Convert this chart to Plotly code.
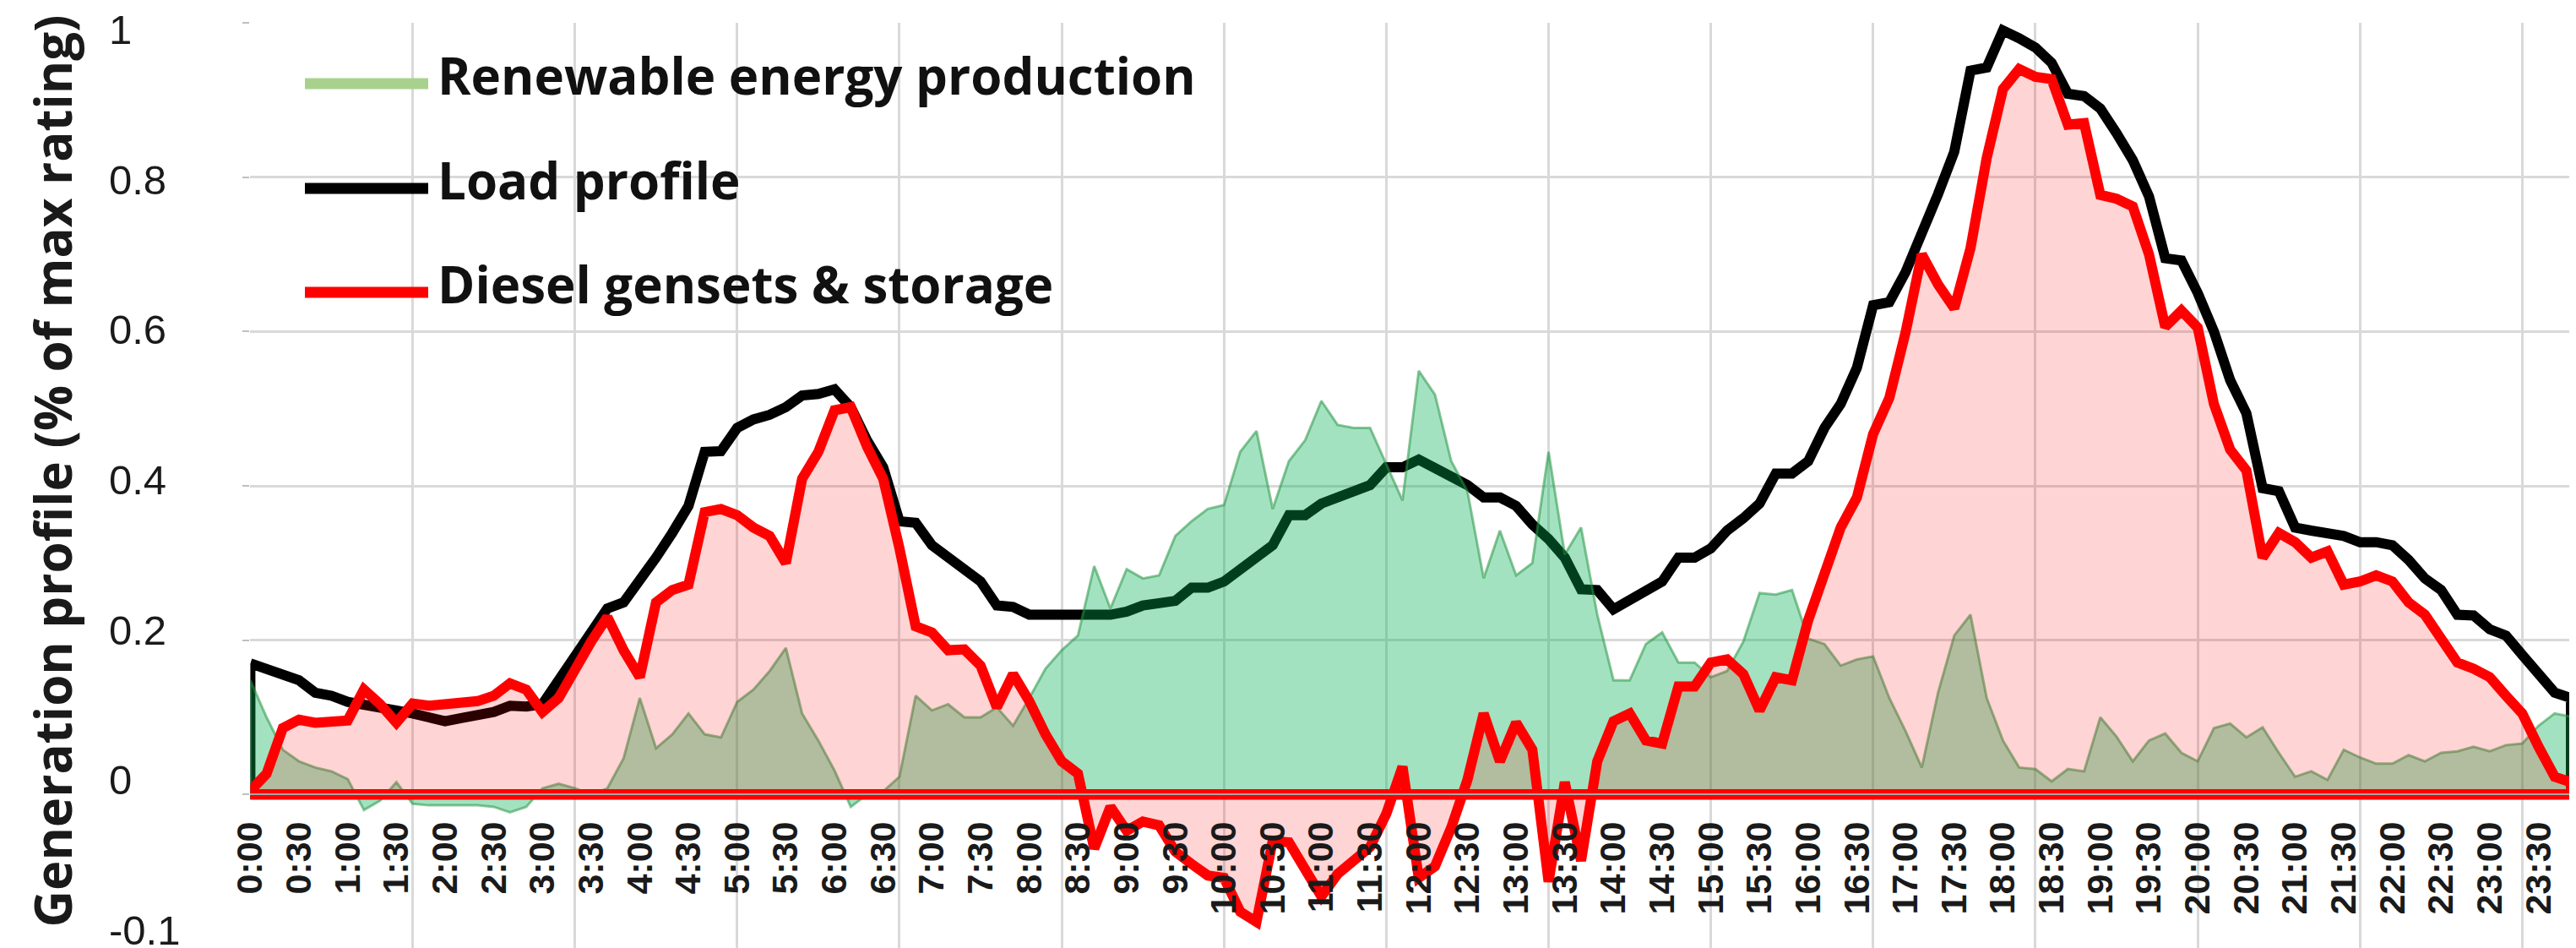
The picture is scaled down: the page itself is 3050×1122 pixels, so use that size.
import plotly.graph_objects as go

# ---------------- data (10-minute resolution, 0:00 .. 23:50) ----------------
times = [f"{h}:{m:02d}" for h in range(24) for m in range(0, 60, 10)]
minutes = [int(t.split(":")[0]) * 60 + int(t.split(":")[1]) for t in times]

tick_labels = times[::3]          # 0:00, 0:30, ... 23:30
tick_minutes = minutes[::3]
grid_minutes = minutes[::10]      # vertical gridlines every 100 minutes

y_grid_values = [1, 0.8, 0.6, 0.4, 0.2, 0, -0.2]
y_tick_labels = ["1", "0.8", "0.6", "0.4", "0.2", "0", "-0.1"]

load_profile = [
    0.170, 0.163, 0.156, 0.148, 0.132, 0.128, 0.120, 0.117, 0.113, 0.109,
    0.105, 0.100, 0.095, 0.099, 0.103, 0.107, 0.115, 0.114, 0.117, 0.148,
    0.179, 0.206, 0.241, 0.249, 0.276, 0.307, 0.339, 0.374, 0.444, 0.445,
    0.475, 0.486, 0.492, 0.502, 0.517, 0.519, 0.525, 0.502, 0.459, 0.424,
    0.354, 0.352, 0.323, 0.307, 0.292, 0.276, 0.245, 0.243, 0.233, 0.233,
    0.233, 0.233, 0.233, 0.233, 0.237, 0.245, 0.248, 0.251, 0.268, 0.268,
    0.276, 0.292, 0.307, 0.323, 0.362, 0.362, 0.377, 0.385, 0.393, 0.401,
    0.424, 0.424, 0.434, 0.424, 0.412, 0.401, 0.385, 0.385, 0.374, 0.350,
    0.331, 0.307, 0.266, 0.265, 0.240, 0.253, 0.265, 0.276, 0.307, 0.307,
    0.319, 0.342, 0.358, 0.377, 0.416, 0.416, 0.432, 0.475, 0.506, 0.553,
    0.634, 0.638, 0.677, 0.724, 0.778, 0.833, 0.938, 0.942, 0.990, 0.980,
    0.968, 0.948, 0.908, 0.905, 0.889, 0.857, 0.822, 0.775, 0.695, 0.692,
    0.650, 0.600, 0.537, 0.494, 0.397, 0.393, 0.346, 0.342, 0.338, 0.335,
    0.327, 0.327, 0.323, 0.304, 0.280, 0.265, 0.233, 0.232, 0.214, 0.206,
    0.181, 0.156, 0.132, 0.125,
]

renewable = [
    0.148, 0.100, 0.058, 0.043, 0.035, 0.030, 0.020, -0.020, -0.008, 0.016,
    -0.012, -0.014, -0.014, -0.014, -0.014, -0.016, -0.023, -0.016, 0.008, 0.014,
    0.008, 0.000, 0.008, 0.047, 0.125, 0.060, 0.078, 0.105, 0.078, 0.074,
    0.120, 0.136, 0.160, 0.190, 0.105, 0.070, 0.031, -0.016, 0.000, 0.004,
    0.023, 0.128, 0.109, 0.117, 0.100, 0.100, 0.113, 0.089, 0.125, 0.163,
    0.187, 0.206, 0.296, 0.241, 0.292, 0.280, 0.284, 0.335, 0.354, 0.370,
    0.375, 0.444, 0.471, 0.370, 0.432, 0.459, 0.510, 0.479, 0.475, 0.475,
    0.428, 0.381, 0.549, 0.518, 0.432, 0.393, 0.280, 0.342, 0.284, 0.300,
    0.444, 0.311, 0.346, 0.233, 0.148, 0.148, 0.195, 0.210, 0.171, 0.171,
    0.152, 0.160, 0.198, 0.261, 0.259, 0.265, 0.202, 0.195, 0.167, 0.175,
    0.179, 0.125, 0.082, 0.035, 0.132, 0.206, 0.233, 0.125, 0.070, 0.035,
    0.033, 0.017, 0.033, 0.030, 0.100, 0.075, 0.043, 0.070, 0.079, 0.054,
    0.043, 0.086, 0.092, 0.074, 0.087, 0.054, 0.023, 0.030, 0.019, 0.058,
    0.048, 0.040, 0.040, 0.051, 0.043, 0.054, 0.056, 0.062, 0.056, 0.064,
    0.066, 0.089, 0.105, 0.101,
]

diesel_storage = [
    0.005, 0.027, 0.086, 0.097, 0.093, 0.096, 0.096, 0.136, 0.117, 0.093,
    0.118, 0.115, 0.117, 0.117, 0.121, 0.128, 0.144, 0.136, 0.107, 0.125,
    0.163, 0.198, 0.230, 0.187, 0.152, 0.249, 0.265, 0.272, 0.366, 0.370,
    0.362, 0.346, 0.335, 0.300, 0.409, 0.444, 0.498, 0.502, 0.451, 0.409,
    0.319, 0.218, 0.210, 0.187, 0.188, 0.167, 0.113, 0.156, 0.121, 0.078,
    0.043, 0.027, -0.070, -0.016, -0.047, -0.035, -0.040, -0.074, -0.090, -0.105,
    -0.108, -0.152, -0.165, -0.060, -0.062, -0.100, -0.132, -0.103, -0.084, -0.068,
    -0.025, 0.036, -0.108, -0.093, -0.043, 0.019, 0.105, 0.043, 0.093, 0.058,
    -0.113, 0.016, -0.086, 0.043, 0.095, 0.105, 0.070, 0.066, 0.140, 0.140,
    0.171, 0.175, 0.156, 0.109, 0.152, 0.148, 0.226, 0.284, 0.346, 0.385,
    0.467, 0.514, 0.599, 0.700, 0.661, 0.630, 0.708, 0.825, 0.914, 0.940,
    0.930, 0.927, 0.868, 0.870, 0.777, 0.772, 0.762, 0.700, 0.606, 0.627,
    0.605, 0.506, 0.447, 0.420, 0.307, 0.339, 0.327, 0.307, 0.315, 0.272,
    0.276, 0.284, 0.276, 0.249, 0.233, 0.202, 0.171, 0.163, 0.152, 0.128,
    0.105, 0.062, 0.023, 0.016,
]

series_names = ["Renewable energy production", "Load profile", "Diesel gensets & storage"]
legend_colors = ["#a9d18e", "#000000", "#ff0000"]


def closed_area(xs, ys):
    """Outline of an Excel-style area: data path, down to zero, back along zero, up to start."""
    return (list(xs) + [xs[-1], xs[0], xs[0]],
            list(ys) + [0, 0, ys[0]])


# ---------------- figure ----------------
W, H = 3050, 1122
M_L, M_R, M_T, M_B = 0, 14, 19, 7
PW = W - M_L - M_R
PH = H - M_T - M_B
PLOT_LEFT = 288.4


def px_x(px):
    return (px - M_L) / PW


def px_y(py):
    return (H - M_B - py) / PH


fig = go.Figure()

lx, ly = closed_area(minutes, load_profile)
fig.add_trace(go.Scatter(x=lx, y=ly, mode="lines", name=series_names[1],
                         line=dict(color="#000000", width=12),
                         showlegend=False, hoverinfo="skip"))

rx, ry = closed_area(minutes, renewable)
fig.add_trace(go.Scatter(x=rx, y=ry, mode="lines", name=series_names[0],
                         fill="toself", fillcolor="rgba(0,176,80,0.36)",
                         line=dict(color="rgba(40,150,70,0.55)", width=3),
                         showlegend=False, hoverinfo="skip"))

dx, dy = closed_area(minutes, diesel_storage)
fig.add_trace(go.Scatter(x=dx, y=dy, mode="lines", name=series_names[2],
                         fill="toself", fillcolor="rgba(255,0,0,0.17)",
                         line=dict(color="#ff0000", width=12),
                         showlegend=False, hoverinfo="skip"))

# carrier trace for the label axes (x2 / y2)
fig.add_trace(go.Scatter(x=[None], y=[None], xaxis="x2", yaxis="y2",
                         mode="lines", showlegend=False, hoverinfo="skip"))

grid_color = "#d9d9d9"
x_range = [minutes[0], minutes[-1]]
y_range = [-0.2, 1.0]

fig.update_layout(
    width=W, height=H,
    margin=dict(l=M_L, r=M_R, t=M_T, b=M_B, autoexpand=False),
    paper_bgcolor="white", plot_bgcolor="white",
    showlegend=False,
    xaxis=dict(domain=[px_x(PLOT_LEFT), 1], range=x_range, automargin=False,
               tickmode="array", tickvals=grid_minutes,
               showticklabels=False, ticks="",
               showgrid=True, gridcolor=grid_color, gridwidth=3,
               zeroline=False, showline=False),
    yaxis=dict(domain=[0, 1], range=y_range, automargin=False,
               tickmode="array", tickvals=y_grid_values,
               showticklabels=False, ticks="outside", ticklen=8,
               tickcolor="#bfbfbf", tickwidth=2,
               showgrid=True, gridcolor=grid_color, gridwidth=3,
               zeroline=False, showline=False),
    xaxis2=dict(overlaying="x", anchor="free", automargin=False,
                position=(0 - y_range[0]) / (y_range[1] - y_range[0]),
                range=x_range, tickmode="array",
                tickvals=tick_minutes, ticktext=tick_labels,
                tickangle=-90, ticks="", ticklabelstandoff=14,
                ticklabeloverflow="allow",
                tickfont=dict(family="Liberation Sans", size=43,
                              color="#1a1a1a", weight="bold"),
                showgrid=False, zeroline=False,
                showline=True, linecolor="#a6a6a6", linewidth=2),
    yaxis2=dict(overlaying="y", anchor="free", side="right", automargin=False,
                position=px_x(120),
                range=[-0.2248, 1.009], tickmode="array",
                tickvals=y_grid_values, ticktext=y_tick_labels,
                ticks="", ticklabelstandoff=0, ticklabeloverflow="allow",
                tickfont=dict(family="Liberation Sans", size=49, color="#1a1a1a"),
                showgrid=False, zeroline=False, showline=False),
)

# y-axis title
fig.add_annotation(text="Generation profile (% of max rating)",
                   xref="paper", yref="paper", x=px_x(54), y=0.516,
                   xanchor="center", yanchor="middle", textangle=-90,
                   showarrow=False,
                   font=dict(family="Open Sans", size=60, color="#1a1a1a", weight="bold"))

# legend (line swatch + label)
legend_rows_px = [91, 215, 338]
for name, color, row in zip(series_names, legend_colors, legend_rows_px):
    fig.add_shape(type="line", xref="paper", yref="paper",
                  x0=px_x(353), x1=px_x(499), y0=px_y(row), y1=px_y(row),
                  line=dict(color=color, width=13))
    fig.add_annotation(text=name, xref="paper", yref="paper",
                       x=px_x(508), y=px_y(row - 10),
                       xanchor="left", yanchor="middle", showarrow=False,
                       font=dict(family="Open Sans", size=60, color="#111111",
                                 weight="bold"))

fig.write_html("out.html")
